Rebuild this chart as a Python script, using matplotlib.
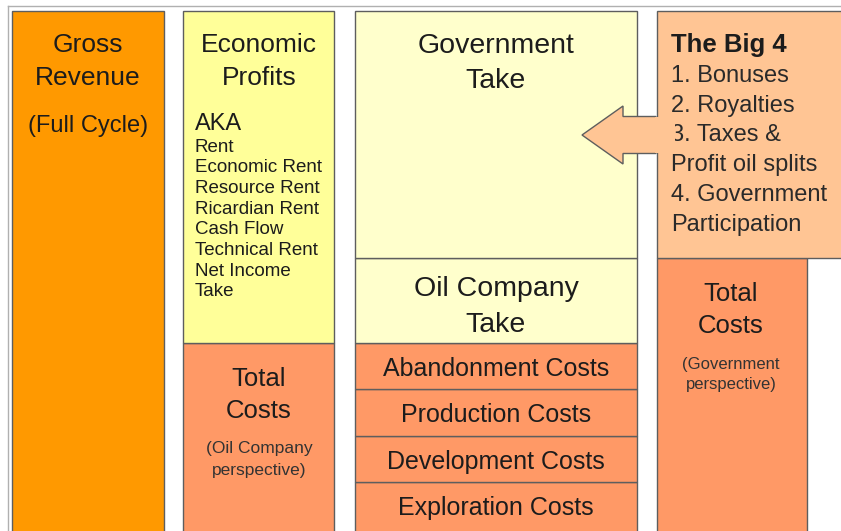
import numpy as np
import matplotlib.pyplot as plt

plt.rcParams['font.family'] = ['Liberation Sans', 'DejaVu Sans']

# block heights in pixels, measured bottom up from the lower edge of the picture
col_top = 520
base = -2
oil_costs = ['Exploration Costs', 'Development Costs', 'Production Costs', 'Abandonment Costs']
oil_cost_heights = [51, 46, 47, 46]
oil_take_height = 85
gov_take_height = 247
econ_cost_height = 190
econ_profit_height = 332
gov_cost_height = 275
big4_height = 247

aka_terms = ['Rent', 'Economic Rent', 'Resource Rent', 'Ricardian Rent',
             'Cash Flow', 'Technical Rent', 'Net Income', 'Take']
big4_items = ['1. Bonuses', '2. Royalties', '3. Taxes &', 'Profit oil splits',
              '4. Government', 'Participation']

ORANGE = '#FF9900'
YELLOW = '#FFFF99'
PALE = '#FFFFCC'
SALMON = '#FF9966'
PEACH = '#FFC594'
EDGE = '#5e5e5e'
TXT = '#1c1c1c'


def two_lines(ax, x, y1, y2, a, b, size, color=TXT):
    ax.text(x, y1, a, ha='center', va='center', fontsize=size, color=color)
    ax.text(x, y2, b, ha='center', va='center', fontsize=size, color=color)


fig = plt.figure(figsize=(8.41, 5.31), dpi=100)
ax = fig.add_axes([0, 0, 1, 1])
ax.set_xlim(0, 841)
ax.set_ylim(0, 531)
ax.axis('off')

# outer frame lines
ax.plot([8, 841], [525, 525], color='#b0b0b0', lw=1)
ax.plot([8, 8], [0, 525], color='#b0b0b0', lw=1)

kw = dict(align='edge', edgecolor=EDGE, linewidth=1)

# column 1 - gross revenue
ax.bar(12, col_top - base, 152, bottom=base, color=ORANGE, **kw)
two_lines(ax, 88, 486, 453, 'Gross', 'Revenue', 19)
ax.text(88, 405, '(Full Cycle)', ha='center', va='center', fontsize=17, color=TXT)

# column 2 - economic profits over total costs
ax.bar(183, econ_cost_height, 151, bottom=base, color=SALMON, **kw)
ax.bar(183, econ_profit_height, 151, bottom=base + econ_cost_height, color=YELLOW, **kw)
two_lines(ax, 259, 486, 453, 'Economic', 'Profits', 19)
ax.text(195, 407, 'AKA', ha='left', va='center', fontsize=17, color=TXT)
for i, term in enumerate(aka_terms):
    ax.text(195, 384 - i * 20.7, term, ha='left', va='center', fontsize=13.5, color=TXT)
two_lines(ax, 259, 152, 120, 'Total', 'Costs', 18.5)
two_lines(ax, 259, 82, 61, '(Oil Company', 'perspective)', 12.5, '#333333')

# column 3 - cost stack and takes
bottoms = base + np.concatenate([[0], np.cumsum(oil_cost_heights)[:-1]])
for lab, h, b in zip(oil_costs, oil_cost_heights, bottoms):
    ax.bar(355, h, 282, bottom=b, color=SALMON, **kw)
    yc = b + h / 2 - 3 if b > base else 23
    ax.text(496, yc, lab, ha='center', va='center', fontsize=18, color=TXT)
take_bottom = base + sum(oil_cost_heights)
ax.bar(355, oil_take_height, 282, bottom=take_bottom, color=PALE, **kw)
two_lines(ax, 496, 242, 206, 'Oil Company', 'Take', 20.5)
gov_bottom = take_bottom + oil_take_height
ax.bar(355, gov_take_height, 282, bottom=gov_bottom, color=PALE, **kw)
two_lines(ax, 496, 485, 450, 'Government', 'Take', 20.5)

# column 4 - government perspective
ax.bar(657, gov_cost_height, 150, bottom=base, color=SALMON, **kw)
ax.bar(657, big4_height, 200, bottom=base + gov_cost_height, color=PEACH, **kw)
two_lines(ax, 731, 237, 205, 'Total', 'Costs', 18.5)
two_lines(ax, 731, 167, 146, '(Government', 'perspective)', 12, '#333333')
ax.text(671, 486, 'The Big 4', ha='left', va='center', fontsize=18.5,
        fontweight='bold', color=TXT)
for i, item in enumerate(big4_items):
    ax.text(671, 455 - i * 29.7, item, ha='left', va='center', fontsize=17, color='#2a2a2a')

# arrow from the Big 4 into government take
ax.add_patch(plt.matplotlib.patches.FancyArrow(
    656, 396, -74, 0, width=37, head_width=58, head_length=41,
    length_includes_head=True, facecolor=PEACH, edgecolor=EDGE, lw=1, zorder=3))
ax.add_patch(plt.Rectangle((655, 377.8), 20, 36.4, facecolor=PEACH,
                           edgecolor='none', zorder=4))

fig.savefig('out.png', dpi=100)
